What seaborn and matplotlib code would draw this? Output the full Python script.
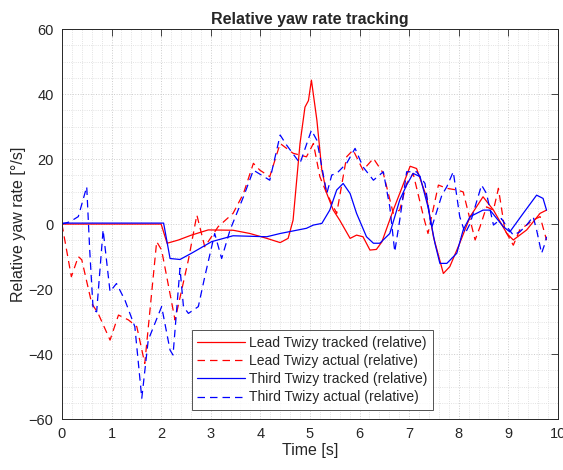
import numpy as np
import pandas as pd
import matplotlib
matplotlib.use('Agg')
import matplotlib.pyplot as plt
from matplotlib.ticker import MultipleLocator
import seaborn as sns

# Lead Twizy tracked (relative)
lead_trk_t = [0, 2.0, 2.12, 2.35, 2.61, 2.95, 3.45, 3.79, 4.13, 4.40,
              4.56, 4.66, 4.80, 4.90, 4.97, 5.03, 5.14, 5.24, 5.34, 5.47,
              5.60, 5.81, 5.94, 6.07, 6.21, 6.34, 6.45, 6.68, 6.85, 7.02,
              7.15, 7.35, 7.49, 7.69, 7.82, 8.02, 8.23, 8.49, 8.70, 8.97,
              9.10, 9.37, 9.64, 9.77]
lead_trk_v = [0, 0, -5.9, -4.9, -3.4, -1.8, -1.9, -2.9, -4.4, -5.7,
              -4.4, 1.2, 24.8, 36, 38, 44.3, 32, 16.6, 9.4, 4.3,
              1.2, -4.4, -3.4, -3.9, -8, -7.8, -5.5, 4.3, 11, 17.8,
              17.1, 8.4, -3.9, -15.2, -13.1, -5.9, 2.3, 8.4, 4.3, -2.9,
              -4.9, -1.8, 3.3, 4.3]

# Lead Twizy actual (relative)
lead_act_t = [0, 0.19, 0.33, 0.40, 0.60, 0.73, 0.97, 1.14, 1.34, 1.51,
              1.67, 1.91, 2.01, 2.28, 2.55, 2.72, 2.88, 3.15, 3.45, 3.66,
              3.86, 3.99, 4.19, 4.40, 4.66, 4.93, 5.07, 5.20, 5.34, 5.54,
              5.74, 5.87, 6.07, 6.28, 6.48, 6.68, 6.81, 6.95, 7.08, 7.29,
              7.38, 7.59, 7.76, 7.96, 8.09, 8.33, 8.43, 8.56, 8.70, 8.80,
              8.93, 9.10, 9.23, 9.50, 9.64, 9.77]
lead_act_v = [0, -16.2, -10, -11, -24.4, -27.5, -35.7, -28, -29.5, -31.6,
              -42.9, -5.4, -8, -29.5, -11, 2.8, -7, -0.8, 3.3, 9.4,
              18.7, 16.6, 14.6, 24.8, 21.8, 20.7, 24.8, 14.6, 9.4, 3.3,
              20.7, 22.8, 16.6, 20.2, 15.6, 3.3, 4.3, 12.5, 15.6, 2.3,
              -2.9, 12, 11, 10.5, 9.9, -4.9, -0.8, 5.3, 4.3, 11,
              -1.8, -6.5, -1.8, 1.2, 2.3, -4.9]

# Third Twizy tracked (relative)
third_trk_t = [0, 2.05, 2.18, 2.38, 2.61, 3.02, 3.45, 4.13, 4.40, 4.93,
               5.07, 5.24, 5.40, 5.54, 5.67, 5.81, 5.94, 6.14, 6.28, 6.41,
               6.61, 6.81, 6.95, 7.08, 7.22, 7.38, 7.52, 7.62, 7.76, 7.96,
               8.09, 8.23, 8.49, 8.63, 8.90, 9.03, 9.30, 9.57, 9.70, 9.77]
third_trk_v = [0.3, 0.3, -10.6, -10.9, -9, -5.4, -3.6, -3.9, -2.9, -1.3,
               -0.3, 0.2, 4.3, 10.5, 12.5, 9.4, 3.3, -3.9, -5.9, -5.9,
               -2.9, 7.4, 12, 15.6, 14.6, 5.3, -5.9, -12.1, -12.1, -9,
               -1.8, 2.3, 4.3, 4.3, -0.8, -2.4, 3.3, 8.9, 7.9, 4.3]

# Third Twizy actual (relative)
third_act_t = [0, 0.16, 0.33, 0.50, 0.56, 0.63, 0.70, 0.83, 0.97, 1.10,
               1.27, 1.47, 1.61, 1.74, 2.01, 2.18, 2.24, 2.38, 2.45, 2.55,
               2.75, 2.88, 3.08, 3.22, 3.39, 3.66, 3.86, 4.19, 4.40, 4.53,
               4.80, 5.03, 5.14, 5.34, 5.44, 5.54, 5.74, 5.91, 6.07, 6.28,
               6.48, 6.61, 6.71, 6.81, 6.95, 7.15, 7.32, 7.45, 7.66, 7.76,
               7.89, 8.02, 8.13, 8.23, 8.46, 8.56, 8.70, 8.86, 8.97, 9.10,
               9.23, 9.37, 9.50, 9.57, 9.67, 9.74, 9.77]
third_act_v = [0, 0.7, 2.3, 11.5, -8, -26.5, -27, -1.8, -20.8, -18.3,
               -23.4, -31.6, -53.6, -35.7, -25.4, -38.8, -40.3, -13.6, -25.4, -27.5,
               -25.4, -16.2, -2.9, -10.6, -1.8, 8.4, 16.6, 13.5, 27.4, 24.3,
               18.7, 28.9, 25.8, 9.4, 15.1, 15.6, 18.7, 23.3, 17.6, 13.5,
               16.1, 5.3, -8.5, 1.2, 16.1, 16.1, 12.5, -1.3, 8.9, 11.5,
               16.1, 2.3, -2.9, 0.2, 12, 9.4, -0.3, 1.7, -0.8, -3.4,
               -2.4, -0.3, 2.3, -1.8, -9, -5.9, -3.9]

labels = ['Lead Twizy tracked (relative)', 'Lead Twizy actual (relative)',
          'Third Twizy tracked (relative)', 'Third Twizy actual (relative)']

# build long-form table
frames = []
for name, t, v in zip(labels,
                      [lead_trk_t, lead_act_t, third_trk_t, third_act_t],
                      [lead_trk_v, lead_act_v, third_trk_v, third_act_v]):
    frames.append(pd.DataFrame({'t': t, 'v': v, 'series': name}))
df = pd.concat(frames, ignore_index=True)

sns.set_style('white')
plt.rcParams['font.family'] = ['Liberation Sans', 'DejaVu Sans']

fig = plt.figure(figsize=(5.63, 4.70), dpi=100)
ax = fig.add_axes([0.110, 0.1085, 0.881, 0.8295])

palette = {labels[0]: '#ff0000', labels[1]: '#ff0000',
           labels[2]: '#0000ff', labels[3]: '#0000ff'}
dashes = {labels[0]: '', labels[1]: (6, 4),
          labels[2]: '', labels[3]: (6, 4)}

sns.lineplot(data=df, x='t', y='v', hue='series', style='series',
             hue_order=labels, style_order=labels,
             palette=palette, dashes=dashes, estimator=None, sort=False,
             linewidth=0.9, ax=ax)

ax.set_xlim(0, 10)
ax.set_ylim(-60, 60)
ax.xaxis.set_major_locator(MultipleLocator(1))
ax.xaxis.set_minor_locator(MultipleLocator(0.2))
ax.yaxis.set_major_locator(MultipleLocator(20))
ax.yaxis.set_minor_locator(MultipleLocator(5))
ax.grid(True, which='major', color='#cccccc', linestyle=':', linewidth=0.7)
ax.grid(True, which='minor', color='#d9d9d9', linestyle=':', linewidth=0.6)
ax.set_axisbelow(True)

ax.tick_params(which='major', direction='in', length=5, width=0.6, pad=6,
               top=True, right=True, labelsize=10.5, colors='#262626')
ax.tick_params(which='minor', length=0)
for s in ax.spines.values():
    s.set_color('#262626')
    s.set_linewidth(0.7)

ax.set_xlabel('Time [s]', fontsize=11.5, color='#262626', labelpad=1)
ax.set_ylabel('Relative yaw rate [°/s]', fontsize=11.5, color='#262626', labelpad=2)
ax.set_title('Relative yaw rate tracking', fontsize=11.5, fontweight='bold', pad=4)

leg = ax.legend(loc='lower left', bbox_to_anchor=(0.262, 0.023), fontsize=10,
                frameon=True, fancybox=False, edgecolor='#262626',
                borderaxespad=0, handlelength=3.4, labelspacing=0.3,
                borderpad=0.4, handletextpad=0.3)
leg.get_frame().set_linewidth(0.7)

fig.savefig('out.png', dpi=100)
